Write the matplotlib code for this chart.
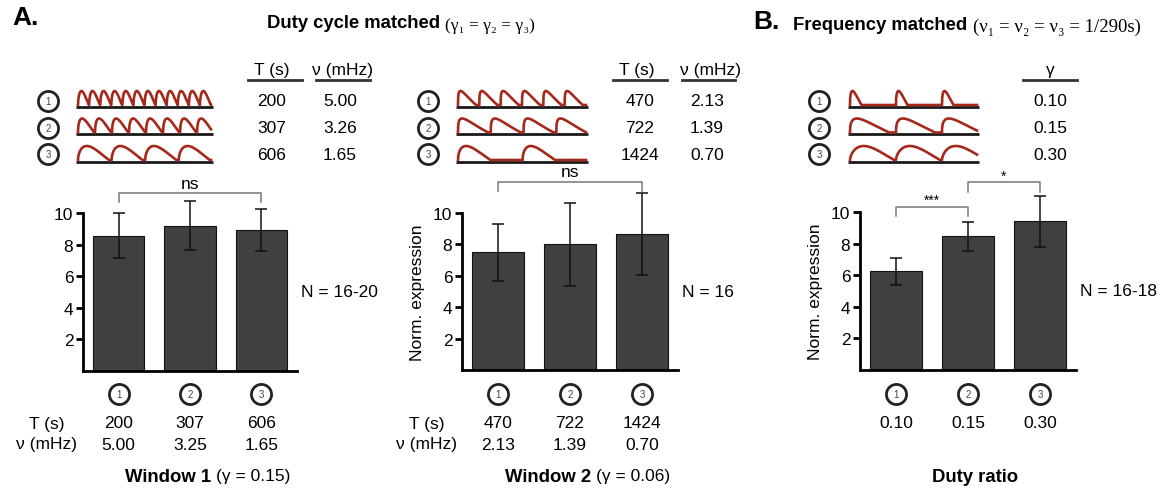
import numpy as np
import matplotlib.pyplot as plt
from matplotlib import transforms

plt.rcParams['font.family'] = ['Liberation Sans', 'DejaVu Sans']
plt.rcParams['font.size'] = 12

W, H = 1166, 489

# ---- data ----
labels = ['1', '2', '3']

win1_T = [200, 307, 606]
win1_nu_top = ['5.00', '3.26', '1.65']
win1_nu_bottom = ['5.00', '3.25', '1.65']
win1_mean = [8.55, 9.2, 8.95]
win1_err = [1.42, 1.55, 1.33]

win2_T = [470, 722, 1424]
win2_nu = ['2.13', '1.39', '0.70']
win2_mean = [7.5, 8.0, 8.65]
win2_err = [1.8, 2.62, 2.6]

duty_gamma = ['0.10', '0.15', '0.30']
duty_period = 290
duty_mean = [6.25, 8.46, 9.4]
duty_err = [0.87, 0.92, 1.6]

RED = '#a5291b'
BAR = '#404040'
SERIF = ['Liberation Serif', 'DejaVu Serif']
NARROW = ['Liberation Sans Narrow', 'Liberation Sans', 'DejaVu Sans']

fig = plt.figure(figsize=(W / 100, H / 100), dpi=100)


def px_axes(left, top, width, height):
    return fig.add_axes([left / W, 1 - (top + height) / H, width / W, height / H])


# overlay in pixel coordinates for the schematic parts
ax0 = px_axes(0, 0, W, H)
ax0.set_xlim(0, W)
ax0.set_ylim(H, 0)
ax0.set_autoscale_on(False)
ax0.set_axis_off()


def circled(x, y, num, transform=None):
    tr = transform if transform is not None else ax0.transData
    ax0.plot([x], [y], 'o', ms=14.5, mfc='white', mec='#222222', mew=2.0, transform=tr, clip_on=False)
    ax0.text(x, y, num, ha='center', va='center', fontsize=7, color='#444444', transform=tr)


def wave_rows(x0, x1, periods, fracs, shapes, amp=14):
    bases = [107.5, 135, 162.5]
    for P, fr, p, yb in zip(periods, fracs, shapes, bases):
        x = np.linspace(x0, x1, 3000)
        ph = ((x - x0) % P) / P / fr
        y = np.where(ph < 1, np.sin(np.pi * np.clip(ph, 0, 1) ** p), 0.0)
        ax0.plot([x0 - 2, x1 + 2], [yb, yb], color='#1a1a1a', lw=2.0, solid_capstyle='butt')
        ax0.plot(x, yb - 1.5 - amp * y, color=RED, lw=1.9)


def header(xc, text, x_a, x_b):
    ax0.text(xc, 70, text, ha='center', va='center', fontsize=12.5)
    ax0.plot([x_a, x_b], [81, 81], color='#333333', lw=2)


rows_y = [102, 128.5, 155]

# ---- titles ----
ax0.text(12, 18, 'A.', fontsize=19, fontweight='bold', ha='left', va='center')
ax0.text(267, 24, 'Duty cycle matched', fontsize=13.3, fontweight='bold', ha='left', va='center')
ax0.text(445, 26, '(γ₁ = γ₂ = γ₃)', fontsize=12.5, ha='left', va='center', family=SERIF)
ax0.text(753, 22, 'B.', fontsize=19, fontweight='bold', ha='left', va='center')
ax0.text(793, 25, 'Frequency matched', fontsize=13.3, fontweight='bold', ha='left', va='center')
ax0.text(973, 27, '(ν₁ = ν₂ = ν₃ = 1/290s)', fontsize=13.5, ha='left', va='center', family=SERIF)

# ---- top schematic tables ----
# window 1
header(272, 'T (s)', 248, 302)
header(342, 'ν (mHz)', 316, 370)
for i in range(3):
    circled(48, rows_y[i], labels[i])
    ax0.text(272, rows_y[i], str(win1_T[i]), ha='center', va='center', fontsize=12.5)
    ax0.text(340, rows_y[i], win1_nu_top[i], ha='center', va='center', fontsize=12.5)
s1 = 133 / 12 / win1_T[0]
wave_rows(78, 211, [t * s1 for t in win1_T], [0.97, 0.95, 0.92], [0.6, 0.5, 0.55])

# window 2
header(637, 'T (s)', 613, 667)
header(710, 'ν (mHz)', 682, 735)
for i in range(3):
    circled(428, rows_y[i], labels[i])
    ax0.text(640, rows_y[i], str(win2_T[i]), ha='center', va='center', fontsize=12.5)
    ax0.text(707, rows_y[i], win2_nu[i], ha='center', va='center', fontsize=12.5)
s2 = 128 / 6 / win2_T[0]
wave_rows(458, 586, [t * s2 for t in win2_T], [0.85, 0.92, 0.5], [0.35, 0.35, 0.5])

# duty ratio
header(1050, 'γ', 1023, 1077)
for i in range(3):
    circled(819, rows_y[i], labels[i])
    ax0.text(1050, rows_y[i], duty_gamma[i], ha='center', va='center', fontsize=12.5)
s3 = 46 / duty_period
wave_rows(850, 977, [duty_period * s3] * 3, [0.25, 0.85, 0.95], [0.45, 0.4, 0.6])


# ---- bar charts ----
def bar_panel(ax, mean, err, n_text, ylabel):
    x = np.arange(len(mean))
    ax.bar(x, mean, width=0.72, color=BAR, edgecolor='#111111', linewidth=0.8)
    eb = ax.errorbar(x, mean, yerr=err, fmt='none', ecolor='#111111', elinewidth=1.1,
                     capsize=4, capthick=1.1)
    for art in eb.get_children():
        art.set_clip_on(False)
    ax.set_xlim(-0.5, 2.5)
    ax.set_ylim(0, 10)
    ax.set_facecolor('none')
    ax.spines['top'].set_visible(False)
    ax.spines['right'].set_visible(False)
    ax.spines['left'].set_linewidth(2)
    ax.spines['bottom'].set_linewidth(2)
    ax.set_xticks([])
    ax.set_yticks([2, 4, 6, 8, 10])
    ax.tick_params(axis='y', length=5, width=2, pad=2, labelsize=12.5)
    if ylabel:
        ax.set_ylabel('Norm. expression', fontsize=12.5)
        ax.yaxis.set_label_coords(-0.17, 0.5)
    ax.text(1.02, 0.5, n_text, transform=ax.transAxes, ha='left', va='center', fontsize=12.5)


def bracket(ax, x1, x2, y, text, ty, fs=12.5):
    ax.plot([x1, x1, x2, x2], [y - 0.6, y, y, y - 0.6], color='#777777', lw=1.1, clip_on=False)
    ax.text((x1 + x2) / 2, ty, text, ha='center', va='center', fontsize=fs, clip_on=False)


ax1 = px_axes(83, 214, 214, 158)
bar_panel(ax1, win1_mean, win1_err, 'N = 16-20', False)
bracket(ax1, 0, 2, 11.27, 'ns', 11.85)

ax2 = px_axes(462, 214, 216, 157)
bar_panel(ax2, win2_mean, win2_err, 'N = 16', True)
bracket(ax2, 0, 2, 12.0, 'ns', 12.65)

ax3 = px_axes(860, 213, 216, 158)
bar_panel(ax3, duty_mean, duty_err, 'N = 16-18', True)
bracket(ax3, 0, 1, 10.34, '***', 10.75, fs=10)
bracket(ax3, 1, 2, 11.88, '*', 12.3, fs=10)


# ---- labels under the bars ----
def under_labels(ax, row1, row2):
    tr = transforms.blended_transform_factory(ax.transData, ax0.transData)
    for i in range(3):
        circled(i, 395, labels[i], transform=tr)
        ax0.text(i, 424, row1[i], ha='center', va='center', fontsize=12.5, transform=tr)
        if row2 is not None:
            ax0.text(i, 445, row2[i], ha='center', va='center', fontsize=12.5, transform=tr)


under_labels(ax1, [str(t) for t in win1_T], win1_nu_bottom)
ax0.text(47, 424, 'T (s)', ha='center', va='center', fontsize=12.5)
ax0.text(47, 445, 'ν (mHz)', ha='center', va='center', fontsize=12.5)
ax0.text(125, 477, 'Window 1', ha='left', va='center', fontsize=13.3, fontweight='bold')
ax0.text(216, 477, '(γ = 0.15)', ha='left', va='center', fontsize=12.5, family=NARROW)

under_labels(ax2, [str(t) for t in win2_T], win2_nu)
ax0.text(427, 424, 'T (s)', ha='center', va='center', fontsize=12.5)
ax0.text(427, 445, 'ν (mHz)', ha='center', va='center', fontsize=12.5)
ax0.text(505, 477, 'Window 2', ha='left', va='center', fontsize=13.3, fontweight='bold')
ax0.text(596, 477, '(γ = 0.06)', ha='left', va='center', fontsize=12.5, family=NARROW)

under_labels(ax3, duty_gamma, None)
ax0.text(975, 477, 'Duty ratio', ha='center', va='center', fontsize=13.3, fontweight='bold')

fig.savefig('out.png', dpi=100)
